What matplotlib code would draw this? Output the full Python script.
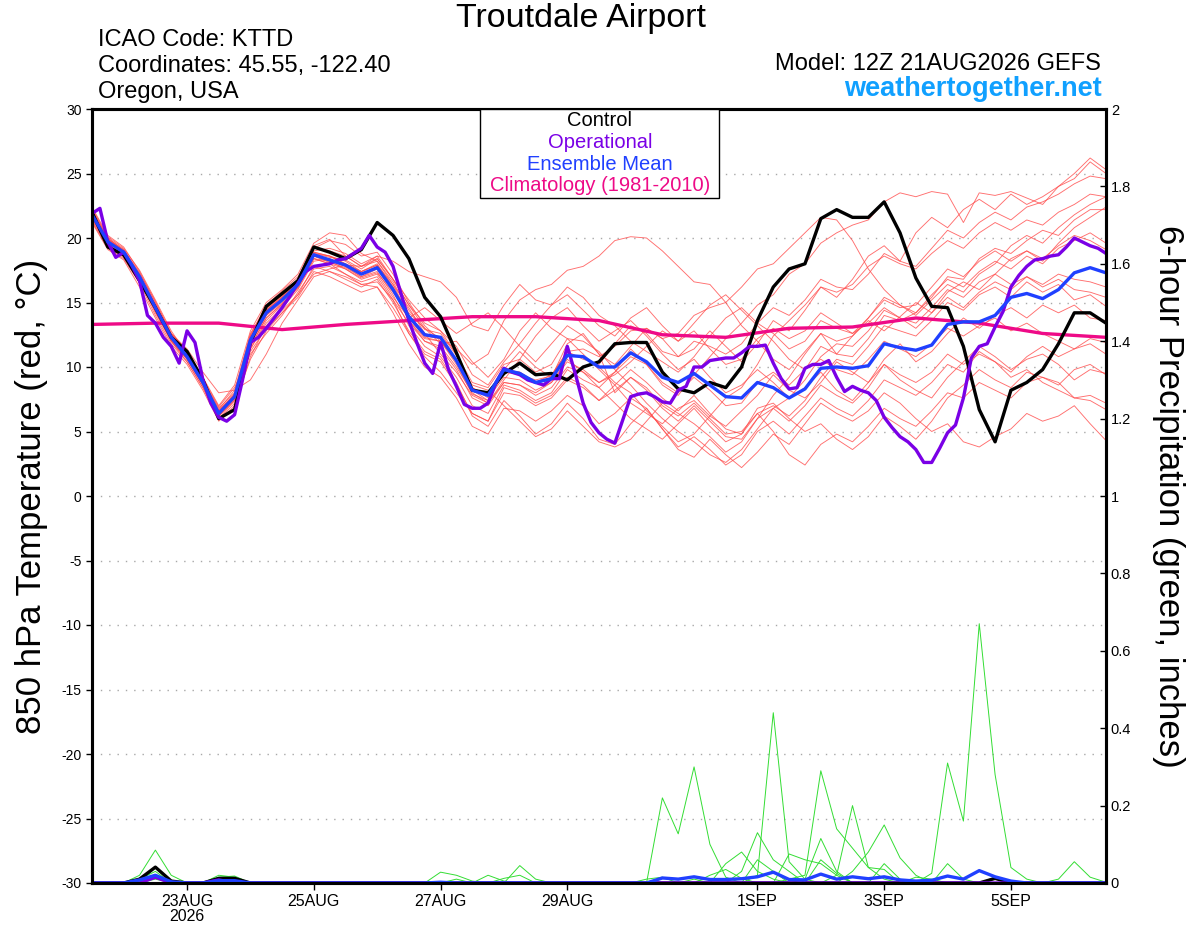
import matplotlib
matplotlib.use("Agg")
import matplotlib.pyplot as plt
from matplotlib.patches import Rectangle
import numpy as np
import pandas as pd

plt.rcParams["font.family"] = ["Liberation Sans", "DejaVu Sans"]
plt.rcParams["axes.unicode_minus"] = False

# 6-hourly GEFS steps from 12Z 21 Aug 2026, 3-hourly for the operational run
times = pd.date_range("2026-08-21 12:00", periods=65, freq="6h")
op_times = pd.date_range("2026-08-21 12:00", periods=129, freq="3h")
clim_times = pd.date_range("2026-08-21 12:00", periods=17, freq="24h")

control_t = [22.0, 19.3, 18.7, 16.7, 14.6, 12.3, 11.2, 9.0, 6.0, 6.7,
             11.9, 14.7, 15.7, 16.7, 19.3, 18.9, 18.4, 19.1, 21.2, 20.2,
             18.4, 15.4, 13.9, 11.1, 8.2, 8.0, 9.5, 10.3, 9.4, 9.5,
             9.0, 10.0, 10.4, 11.8, 11.9, 11.9, 9.6, 8.3, 8.0, 8.8,
             8.4, 10.0, 13.6, 16.2, 17.6, 18.0, 21.5, 22.2, 21.6, 21.6,
             22.8, 20.4, 16.9, 14.7, 14.6, 11.6, 6.7, 4.2, 8.2, 8.8,
             9.8, 11.8, 14.2, 14.2, 13.4]

mean_t = [21.8, 19.7, 18.9, 17.0, 14.6, 12.3, 10.8, 8.8, 6.4, 7.7,
          12.1, 14.2, 15.2, 16.4, 18.7, 18.3, 17.9, 17.2, 17.7, 16.0,
          13.9, 12.5, 12.3, 10.5, 8.2, 7.8, 9.8, 9.5, 8.8, 9.1,
          10.9, 10.8, 10.0, 10.0, 11.1, 10.4, 9.2, 8.8, 9.5, 8.6,
          7.7, 7.6, 8.8, 8.4, 7.6, 8.3, 9.9, 10.0, 9.9, 10.1,
          11.8, 11.5, 11.3, 11.7, 13.3, 13.5, 13.5, 14.0, 15.4, 15.7,
          15.3, 16.0, 17.3, 17.7, 17.3]

operational_t = [21.9, 22.3, 19.7, 18.5, 18.9, 17.9, 16.7, 14.0, 13.4, 12.3,
                 11.6, 10.3, 12.8, 11.9, 9.0, 7.2, 6.1, 5.8, 6.3, 9.0,
                 11.9, 12.3, 13.0, 13.8, 14.6, 15.5, 16.5, 17.4, 17.8, 17.9,
                 18.0, 18.3, 18.4, 18.8, 19.2, 20.2, 19.3, 18.9, 17.8, 15.7,
                 13.6, 11.9, 10.3, 9.5, 11.9, 9.8, 8.5, 7.1, 6.8, 6.8,
                 7.2, 8.8, 9.9, 9.6, 9.4, 9.0, 8.8, 8.6, 9.1, 9.1,
                 11.6, 9.5, 7.2, 5.7, 4.9, 4.4, 4.1, 5.9, 7.7, 7.9,
                 8.0, 7.7, 7.3, 7.2, 8.2, 8.5, 10.0, 10.0, 10.5, 10.6,
                 10.7, 10.7, 11.1, 11.6, 11.6, 11.7, 10.3, 9.1, 8.3, 8.4,
                 9.9, 10.2, 10.2, 10.5, 9.2, 8.1, 8.5, 8.2, 8.0, 7.4,
                 6.1, 5.3, 4.6, 4.2, 3.6, 2.6, 2.6, 3.7, 4.9, 5.5,
                 7.6, 10.7, 11.6, 11.8, 13.1, 14.3, 16.2, 17.1, 17.8, 18.3,
                 18.4, 18.6, 18.7, 19.3, 20.0, 19.7, 19.4, 19.2, 18.8]

climatology_t = [13.3, 13.4, 13.4, 12.9, 13.3, 13.6, 13.9, 13.9, 13.6,
                 12.5, 12.3, 13.0, 13.1, 13.8, 13.4, 12.6, 12.3]

member_t = [
    [22.3, 20.1, 19.2, 17.5, 15.2, 12.8, 11.0, 9.0, 6.8, 8.0,
     12.5, 14.8, 15.9, 17.0, 19.2, 19.8, 19.5, 18.6, 18.9, 17.2,
     15.0, 13.2, 12.0, 10.6, 8.2, 7.4, 9.8, 11.2, 10.0, 9.2,
     11.8, 12.6, 11.0, 10.2, 11.6, 13.0, 12.2, 10.8, 11.4, 12.8,
     11.6, 10.4, 11.8, 13.6, 12.8, 14.4, 16.2, 15.4, 16.8, 18.6,
     19.4, 18.2, 20.4, 21.6, 20.8, 22.2, 23.0, 22.2, 23.4, 22.6,
     23.2, 24.0, 24.6, 25.9, 25.0],
    [21.6, 19.4, 18.6, 16.8, 14.2, 12.0, 10.4, 8.4, 6.0, 7.4,
     11.6, 13.8, 14.9, 16.1, 18.4, 18.0, 17.6, 16.9, 17.3, 15.8,
     14.2, 13.0, 12.2, 11.4, 10.2, 11.0, 13.6, 15.2, 16.0, 16.4,
     17.5, 17.8, 18.6, 19.8, 20.1, 20.0, 19.0, 17.8, 16.6, 16.4,
     15.0, 13.2, 12.0, 10.6, 9.8, 11.2, 12.6, 11.0, 12.4, 13.6,
     12.8, 13.9, 15.0, 14.2, 15.8, 16.6, 16.0, 17.2, 18.4, 19.0,
     18.2, 19.6, 20.8, 21.6, 22.4],
    [22.0, 19.9, 19.1, 17.2, 14.9, 12.4, 10.9, 8.9, 6.5, 7.9,
     12.4, 14.5, 15.5, 16.8, 19.4, 19.9, 18.6, 17.8, 18.2, 16.6,
     14.4, 12.9, 12.6, 10.9, 8.4, 7.6, 9.2, 9.0, 8.2, 8.8,
     10.6, 9.6, 8.4, 9.6, 11.4, 10.2, 8.6, 7.8, 9.4, 10.8,
     12.2, 13.4, 14.8, 15.6, 17.2, 18.0, 19.6, 20.4, 21.0, 21.4,
     22.8, 23.5, 23.2, 23.6, 23.4, 21.2, 23.5, 23.3, 23.6, 23.1,
     22.6, 24.0, 25.0, 26.2, 25.3],
    [21.4, 19.3, 18.5, 16.6, 14.3, 12.0, 10.6, 8.6, 6.2, 7.5,
     11.8, 14.0, 15.0, 16.3, 18.6, 18.1, 17.7, 17.0, 17.6, 15.9,
     13.8, 12.3, 12.0, 10.2, 7.9, 7.4, 9.6, 9.4, 9.0, 9.3,
     11.2, 11.4, 10.8, 11.6, 12.8, 13.0, 12.2, 12.6, 14.0, 14.6,
     15.0, 16.2, 17.6, 18.0, 19.2, 20.4, 21.6, 21.4, 19.8, 17.6,
     16.0, 14.8, 14.0, 15.2, 16.4, 15.8, 17.2, 18.0, 19.4, 20.2,
     19.6, 20.8, 21.8, 22.6, 23.2],
    [21.2, 19.1, 18.3, 16.2, 13.8, 11.6, 10.2, 8.2, 5.8, 7.0,
     10.8, 13.2, 14.4, 15.6, 17.8, 17.4, 16.8, 16.2, 16.8, 15.0,
     12.8, 11.2, 10.6, 8.8, 6.2, 5.4, 7.4, 6.2, 4.8, 5.6,
     7.2, 6.0, 4.4, 4.0, 5.6, 6.8, 5.2, 3.6, 3.0, 4.4,
     3.2, 2.2, 3.4, 4.8, 4.0, 5.6, 7.2, 6.4, 5.8, 6.6,
     8.0, 7.2, 6.0, 5.0, 5.6, 4.2, 3.8, 4.6, 5.2, 6.4,
     5.8, 6.2, 7.0, 5.6, 4.3],
    [21.9, 19.8, 19.0, 17.1, 14.7, 12.5, 11.1, 9.1, 6.9, 8.4,
     11.0, 12.6, 14.0, 15.8, 17.6, 17.8, 17.2, 16.4, 16.2, 14.6,
     12.6, 10.8, 9.6, 8.0, 6.4, 5.8, 8.4, 8.0, 7.2, 7.8,
     9.2, 8.6, 7.4, 8.6, 9.8, 8.8, 7.6, 6.6, 7.8, 6.4,
     5.2, 4.8, 6.8, 7.2, 6.0, 5.0, 5.6, 4.4, 3.6, 4.6,
     6.2, 5.4, 4.4, 5.8, 7.6, 8.6, 9.8, 9.0, 8.4, 9.6,
     9.2, 8.8, 7.6, 7.4, 6.7],
    [22.4, 20.2, 19.3, 17.4, 15.0, 12.6, 11.2, 9.2, 7.0, 8.6,
     12.8, 15.0, 16.0, 17.2, 19.6, 20.4, 20.2, 18.8, 18.2, 16.4,
     14.6, 12.6, 11.0, 9.6, 7.8, 7.2, 9.0, 10.6, 12.4, 13.8,
     14.6, 13.2, 12.0, 12.8, 13.6, 12.4, 11.0, 9.8, 10.6, 9.2,
     8.0, 8.6, 9.8, 8.8, 7.6, 8.4, 9.6, 8.2, 7.4, 8.8,
     10.2, 9.0, 8.2, 7.6, 9.2, 10.4, 11.6, 10.8, 9.8, 10.6,
     11.0, 10.2, 9.0, 9.8, 9.5],
    [21.7, 19.5, 18.7, 16.9, 14.5, 12.2, 10.7, 8.7, 6.3, 7.6,
     12.0, 14.2, 15.3, 16.6, 18.9, 18.6, 18.0, 17.4, 18.0, 16.2,
     13.6, 12.0, 11.4, 9.8, 7.6, 7.0, 8.8, 8.6, 7.8, 8.4,
     10.0, 9.6, 8.8, 9.6, 10.8, 10.2, 8.8, 8.0, 9.2, 8.2,
     7.0, 7.2, 8.8, 9.6, 8.6, 9.8, 11.6, 11.0, 10.8, 12.2,
     14.0, 13.6, 14.2, 15.4, 17.0, 16.8, 18.4, 19.2, 18.8, 19.8,
     20.6, 20.2, 21.4, 22.2, 22.2],
    [21.5, 19.6, 18.8, 16.9, 14.4, 12.1, 10.7, 8.8, 6.6, 7.8,
     11.4, 13.4, 14.6, 16.0, 18.2, 18.4, 17.8, 17.0, 17.4, 15.6,
     13.2, 11.6, 10.8, 9.2, 7.0, 6.4, 8.6, 8.2, 7.4, 8.0,
     9.8, 9.0, 8.4, 7.2, 6.0, 5.2, 4.4, 5.6, 6.8, 5.4,
     4.2, 4.8, 6.4, 7.0, 6.2, 7.4, 9.2, 10.6, 10.2, 11.6,
     13.2, 12.8, 12.4, 13.6, 15.0, 14.4, 15.6, 16.2, 15.4, 16.6,
     15.8, 16.4, 15.2, 15.6, 14.7],
    [22.1, 20.0, 19.0, 17.1, 14.8, 12.3, 10.9, 8.8, 6.4, 7.8,
     12.2, 14.4, 15.4, 16.6, 18.8, 18.5, 18.3, 17.6, 18.4, 16.8,
     15.2, 13.8, 12.8, 11.6, 9.4, 8.6, 10.4, 11.8, 13.4, 14.8,
     16.2, 15.4, 14.0, 13.2, 12.0, 11.2, 10.4, 9.6, 10.8, 12.4,
     13.8, 14.6, 13.4, 12.6, 11.4, 12.0, 13.6, 13.0, 12.6, 13.8,
     15.4, 14.8, 14.2, 15.6, 16.8, 16.2, 17.4, 18.2, 17.6, 18.6,
     18.0, 19.2, 19.8, 20.4, 19.6],
    [21.8, 19.8, 18.9, 17.0, 14.7, 12.4, 10.9, 8.9, 6.6, 7.9,
     11.2, 13.0, 14.2, 15.6, 17.2, 17.6, 17.9, 17.8, 18.6, 18.2,
     17.4, 17.0, 16.6, 15.4, 13.2, 12.8, 14.8, 16.4, 15.2, 14.8,
     15.6, 14.4, 13.2, 12.4, 13.8, 14.6, 13.2, 12.0, 12.8, 11.4,
     10.2, 10.6, 12.2, 13.0, 12.2, 12.8, 14.2, 13.4, 12.6, 13.4,
     14.6, 13.8, 13.0, 14.2, 15.4, 14.6, 15.8, 16.6, 16.0, 17.0,
     16.4, 17.2, 16.8, 16.6, 16.2],
    [21.3, 19.2, 18.4, 16.5, 14.0, 11.8, 10.4, 8.4, 5.9, 7.2,
     10.6, 12.8, 14.2, 15.4, 17.4, 17.0, 16.4, 15.8, 16.2, 14.2,
     11.8, 10.0, 9.2, 7.6, 5.4, 4.8, 6.8, 6.6, 5.8, 6.6,
     7.8, 7.0, 5.6, 6.4, 7.6, 6.8, 5.2, 3.8, 4.6, 3.6,
     2.4, 3.2, 5.0, 5.8, 4.8, 6.2, 7.6, 6.8, 6.2, 7.4,
     9.0, 8.4, 7.8, 8.8, 10.2, 9.6, 11.2, 10.4, 9.6, 10.8,
     11.6, 10.8, 11.4, 12.2, 11.9],
    [22.2, 20.0, 19.1, 17.3, 15.1, 12.6, 11.0, 9.0, 6.7, 8.2,
     12.6, 14.6, 15.6, 16.8, 19.0, 19.2, 18.8, 18.0, 18.6, 16.8,
     14.8, 13.0, 11.8, 12.0, 10.4, 9.2, 10.6, 12.8, 14.2, 13.0,
     12.2, 11.0, 9.8, 8.6, 7.2, 6.4, 5.6, 6.8, 7.4, 6.2,
     5.4, 6.6, 7.8, 9.4, 8.2, 7.6, 8.8, 10.4, 9.6, 8.8,
     10.6, 11.8, 10.4, 11.2, 12.6, 13.8, 13.0, 14.0, 14.6, 13.8,
     14.8, 14.2, 14.8, 13.8, 13.6],
    [21.6, 19.5, 18.7, 16.8, 14.4, 12.0, 10.6, 8.6, 6.2, 7.6,
     11.8, 14.0, 15.2, 16.4, 18.6, 18.2, 17.8, 17.2, 17.8, 16.0,
     13.6, 12.2, 12.0, 10.4, 8.2, 7.8, 9.8, 9.6, 8.8, 9.2,
     11.0, 10.8, 10.0, 8.8, 8.0, 6.6, 5.4, 4.2, 4.8, 6.2,
     7.6, 8.4, 10.2, 12.4, 13.6, 14.8, 16.2, 15.8, 16.4, 17.8,
     18.6, 18.0, 17.6, 18.8, 19.8, 19.2, 20.4, 21.2, 20.6, 21.4,
     21.0, 22.0, 22.6, 23.4, 23.2],
    [21.9, 19.7, 18.8, 16.9, 14.5, 12.2, 10.8, 8.8, 6.4, 7.6,
     11.4, 13.6, 14.8, 16.2, 18.4, 18.0, 17.2, 16.6, 17.0, 15.2,
     12.6, 11.0, 10.4, 8.6, 6.4, 5.8, 8.0, 7.8, 7.0, 7.6,
     9.0, 8.4, 7.4, 8.2, 9.2, 8.4, 7.0, 6.2, 7.2, 6.0,
     4.8, 5.0, 6.4, 5.0, 3.2, 2.4, 4.0, 4.8, 4.2, 5.4,
     6.8, 6.0, 5.4, 6.6, 8.0, 7.6, 8.8, 8.2, 7.6, 8.8,
     9.2, 8.6, 9.8, 10.2, 9.4],
    [22.0, 19.9, 19.0, 17.1, 14.8, 12.4, 10.9, 8.9, 6.6, 7.9,
     12.2, 14.4, 15.4, 16.6, 18.8, 18.6, 18.2, 17.4, 17.9, 16.2,
     14.0, 12.4, 12.2, 10.6, 8.6, 8.2, 7.0, 5.8, 4.6, 5.2,
     6.6, 5.4, 4.2, 3.8, 4.4, 5.8, 7.2, 6.4, 5.6, 4.6,
     3.4, 4.2, 6.0, 7.8, 9.2, 11.0, 12.6, 12.0, 12.4, 13.8,
     15.2, 14.6, 14.8, 16.2, 17.6, 17.0, 18.2, 19.0, 18.2, 19.0,
     18.4, 19.4, 20.2, 19.8, 19.1],
    [21.6, 19.6, 18.8, 17.0, 14.8, 12.6, 11.4, 9.6, 8.0, 8.2,
     9.0, 11.0, 13.4, 15.2, 17.0, 17.4, 17.0, 16.4, 16.6, 15.2,
     13.4, 12.0, 11.6, 10.0, 8.0, 7.2, 8.8, 8.6, 8.0, 8.8,
     10.4, 9.8, 8.8, 9.4, 10.4, 11.6, 12.8, 12.0, 13.4, 14.8,
     15.6, 14.4, 13.2, 12.0, 10.6, 9.8, 10.6, 9.8, 9.4, 10.6,
     12.0, 11.4, 10.8, 11.8, 13.0, 12.4, 13.2, 13.8, 12.8, 13.4,
     12.6, 12.0, 11.4, 11.8, 11.0],
    [21.9, 19.8, 18.9, 17.0, 14.6, 12.3, 10.8, 8.8, 6.4, 7.7,
     12.4, 14.6, 15.6, 16.8, 19.2, 19.0, 18.6, 17.8, 18.4, 16.8,
     14.8, 13.4, 12.8, 11.0, 8.8, 8.4, 10.2, 10.6, 9.6, 10.2,
     12.2, 12.0, 11.2, 9.8, 8.6, 7.2, 6.0, 5.0, 4.2, 3.2,
     2.6, 3.6, 5.2, 6.8, 7.6, 9.0, 10.8, 11.8, 11.6, 12.8,
     14.4, 13.8, 13.4, 14.6, 16.0, 15.4, 16.6, 17.2, 16.4, 17.0,
     16.2, 16.8, 16.0, 15.8, 15.4],
    [22.1, 19.9, 19.0, 17.2, 14.8, 12.4, 10.9, 8.9, 6.5, 7.8,
     12.2, 14.4, 15.4, 16.6, 18.9, 18.6, 18.0, 17.4, 17.9, 16.4,
     14.0, 12.6, 12.2, 10.6, 8.4, 7.8, 9.8, 9.6, 8.8, 9.4,
     11.2, 10.6, 10.2, 11.8, 13.2, 12.6, 11.2, 10.8, 12.0, 11.6,
     11.0, 11.8, 13.4, 14.6, 14.0, 15.2, 16.8, 16.2, 16.0, 17.2,
     18.8, 18.2, 17.8, 19.2, 20.6, 20.0, 21.2, 22.0, 21.4, 22.4,
     22.8, 23.4, 24.2, 24.8, 24.6],
    [21.5, 19.4, 18.6, 16.7, 14.3, 12.1, 10.6, 8.6, 6.2, 7.4,
     11.6, 13.8, 14.9, 16.2, 18.4, 18.2, 17.6, 16.8, 17.2, 15.4,
     13.8, 14.6, 13.6, 12.6, 13.4, 14.2, 13.0, 11.6, 10.4, 11.8,
     13.2, 12.4, 11.0, 8.0, 9.2, 8.2, 6.8, 5.8, 7.0, 5.8,
     4.6, 4.4, 6.0, 6.8, 5.8, 7.0, 8.6, 7.8, 7.2, 8.4,
     10.2, 9.4, 8.8, 9.6, 11.0, 10.2, 11.0, 10.4, 9.2, 9.8,
     8.8, 8.2, 7.6, 7.8, 7.2],
]

# 6-hour precipitation (inches): step index -> amount, all other steps dry
member_p = [
    {3: 0.02, 4: 0.085, 5: 0.02, 22: 0.028, 23: 0.02, 24: 0.005,
     36: 0.22, 37: 0.127, 38: 0.30, 39: 0.10, 40: 0.015},
    {4: 0.04, 8: 0.015, 9: 0.018, 42: 0.02, 43: 0.44, 44: 0.055, 45: 0.01},
    {3: 0.01, 4: 0.03, 44: 0.01, 45: 0.02, 46: 0.29, 47: 0.14, 48: 0.09,
     49: 0.04, 50: 0.01},
    {47: 0.02, 48: 0.20, 49: 0.04, 50: 0.035},
    {4: 0.01, 48: 0.03, 49: 0.08, 50: 0.15, 51: 0.065, 52: 0.02},
    {53: 0.025, 54: 0.31, 55: 0.16, 56: 0.67, 57: 0.28, 58: 0.04, 59: 0.01},
    {61: 0.01, 62: 0.055, 63: 0.015, 64: 0.002},
    {40: 0.05, 41: 0.08, 42: 0.03, 43: 0.01},
    {41: 0.03, 42: 0.13, 43: 0.06, 44: 0.03},
    {44: 0.075, 45: 0.06, 46: 0.05, 47: 0.02},
    {45: 0.01, 46: 0.115, 47: 0.03},
    {27: 0.045, 28: 0.01, 42: 0.06, 43: 0.03},
    {8: 0.02, 9: 0.015, 25: 0.02, 26: 0.005, 50: 0.05, 51: 0.01},
    {54: 0.05, 55: 0.01},
    {39: 0.02, 40: 0.035, 41: 0.012},
    {23: 0.01, 38: 0.01, 46: 0.06, 47: 0.025},
    {52: 0.015, 53: 0.01},
    {3: 0.005, 4: 0.02, 57: 0.015},
    {26: 0.012, 27: 0.02},
    {35: 0.01, 36: 0.015},
]
control_p = {3: 0.01, 4: 0.041, 5: 0.005, 8: 0.012, 9: 0.012, 57: 0.012}
operational_p = {4: 0.015, 8: 0.008}
mean_p = {3: 0.008, 4: 0.02, 5: 0.003, 8: 0.006, 9: 0.006, 22: 0.002,
          36: 0.013, 37: 0.01, 38: 0.016, 39: 0.009, 40: 0.009, 41: 0.011,
          42: 0.016, 43: 0.028, 44: 0.009, 45: 0.008, 46: 0.023, 47: 0.01,
          48: 0.016, 49: 0.011, 50: 0.016, 51: 0.008, 52: 0.005, 53: 0.007,
          54: 0.018, 55: 0.01, 56: 0.032, 57: 0.016, 58: 0.005}

tick_days = ["2026-08-23", "2026-08-25", "2026-08-27", "2026-08-29",
             "2026-09-01", "2026-09-03", "2026-09-05"]
tick_labels = ["23AUG\n2026", "25AUG", "27AUG", "29AUG", "1SEP", "3SEP", "5SEP"]


def series(d):
    out = np.zeros(len(times))
    for k, v in d.items():
        out[k] = v
    return out


RED = "#ff4a4a"
GREEN = "#33dd33"
BLACK = "black"
PURPLE = "#7a00e6"
BLUE = "#2040ff"
MAGENTA = "#ee0a87"

fig = plt.figure(figsize=(12, 9.27), dpi=100)
ax = fig.add_axes([92 / 1200, 44 / 927, 1014 / 1200, 774 / 927])
ax2 = ax.twinx()

for m in member_t:
    ax.plot(times, m, color=RED, lw=0.65, alpha=0.8)
ax.plot(clim_times, climatology_t, color=MAGENTA, lw=2.4)
ax.plot(times, control_t, color=BLACK, lw=2.4)
ax.plot(op_times, operational_t, color=PURPLE, lw=2.4)
ax.plot(times, mean_t, color=BLUE, lw=2.4)

for m in member_p:
    ax2.plot(times, series(m), color=GREEN, lw=0.7)
ax2.plot(times, series(control_p), color=BLACK, lw=2.4)
ax2.plot(times, series(operational_p), color=PURPLE, lw=2.4)
ax2.plot(times, series(mean_p), color=BLUE, lw=2.4)

ax.set_xlim(times[0], times[-1])
ax.set_ylim(-30, 30)
ax2.set_ylim(0, 2)
for v in range(-25, 30, 5):
    ax.axhline(v, color="#a8a8a8", lw=1.0, ls=(0, (1, 5)), zorder=0)

ax.set_yticks(range(-30, 31, 5))
ax.tick_params(axis="y", direction="out", length=4, width=1, labelsize=10)
ax.set_xticks(pd.to_datetime(tick_days))
ax.set_xticklabels(tick_labels, fontsize=11.5, linespacing=1.0)
ax.tick_params(axis="x", direction="out", length=5, width=1, pad=3)
ax2.set_yticks(np.arange(0, 2.01, 0.2))
ax2.set_yticklabels(["0", "0.2", "0.4", "0.6", "0.8", "1", "1.2", "1.4",
                     "1.6", "1.8", "2"])
ax2.tick_params(axis="y", direction="in", length=4, width=1, labelsize=10.5)
for a in (ax, ax2):
    for s in a.spines.values():
        s.set_linewidth(2.2)

# header
fig.text(581 / 1200, 1 - 19 / 927, "Troutdale Airport", ha="center",
         va="center", fontsize=24.5)
for i, line in enumerate(["ICAO Code: KTTD", "Coordinates: 45.55, -122.40",
                          "Oregon, USA"]):
    fig.text(98 / 1200, 1 - (40 + 26 * i) / 927, line, ha="left",
             va="center", fontsize=17)
fig.text(1101 / 1200, 1 - 64 / 927, "Model: 12Z 21AUG2026 GEFS", ha="right",
         va="center", fontsize=17)
fig.text(1102 / 1200, 1 - 89 / 927, "weathertogether.net", ha="right",
         va="center", fontsize=19.5, fontweight="bold", color="#10a0ff")

# legend box
fig.patches.append(Rectangle((480 / 1200, 1 - 198 / 927), 239 / 1200,
                             89 / 927, transform=fig.transFigure,
                             facecolor="white", edgecolor="black", lw=1,
                             zorder=5))
for i, (txt, col) in enumerate([("Control", BLACK), ("Operational", PURPLE),
                                ("Ensemble Mean", BLUE),
                                ("Climatology (1981-2010)", MAGENTA)]):
    fig.text(600 / 1200, 1 - (121 + 21.5 * i) / 927, txt, ha="center",
             va="center", fontsize=14.5, color=col, zorder=6)

fig.text(32 / 1200, 1 - 496 / 927, "850 hPa Temperature (red, \u00b0C)",
         rotation=90, ha="center", va="center", fontsize=25)
fig.text(1168 / 1200, 1 - 496 / 927, "6-hour Precipitation (green, inches)",
         rotation=270, ha="center", va="center", fontsize=25)

fig.savefig("out.png", dpi=100)
